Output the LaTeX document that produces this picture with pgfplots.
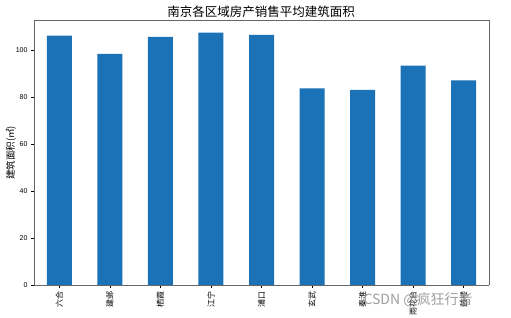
\documentclass[border=0pt]{standalone}
\usepackage{fontspec}
\setmainfont{Liberation Sans}
\newfontfamily\cjk{Noto Sans CJK SC}
\usepackage{pgfplots}
\pgfplotsset{compat=1.18}
\definecolor{barblue}{HTML}{1C72B6}
\begin{document}
\begin{tikzpicture}[x=1pt,y=1pt]
\useasboundingbox (0,0) rectangle (511,318);
\begin{axis}[
  at={(34pt,33pt)}, anchor=south west,
  scale only axis, width=455pt, height=265pt,
  xmin=-0.5, xmax=8.5, ymin=0, ymax=112.7,
  xtick={0,...,8},
  xticklabels={六合,建邺,栖霞,江宁,浦口,玄武,秦淮,雨花台,鼓楼},
  xticklabel style={rotate=90, anchor=east, font=\cjk\fontsize{8}{8}\selectfont},
  ytick={0,20,40,60,80,100},
  yticklabel style={font=\fontsize{7}{8}\selectfont},
  /pgf/number format/assume math mode=true,
  axis line style={gray!80!black, line width=0.8pt},
  tick style={black, line width=0.5pt},
  tick align=outside,
  major tick length=3pt,
  axis x line*=bottom, axis y line*=left,
  clip=false,
]
\addplot[ybar, bar width=25pt, fill=barblue, draw=none] coordinates {
  (0,106.1) (1,98.3) (2,105.5) (3,107.3) (4,106.4) (5,83.6) (6,83.0) (7,93.3) (8,87.0)
};
\draw[gray!80!black, line width=0.8pt] (rel axis cs:0,1) -- (rel axis cs:1,1) -- (rel axis cs:1,0);
\end{axis}
\node[font=\cjk\fontsize{12.5}{14}\selectfont] at (261,306) {南京各区域房产销售平均建筑面积};
\node[rotate=90, font=\cjk\fontsize{9.5}{10}\selectfont] at (11,165) {建筑面积(㎡)};
\node[anchor=west, text=gray!75, font=\cjk\fontsize{14}{15}\selectfont] at (360,18) {CSDN @疯狂行者};
\end{tikzpicture}
\end{document}
